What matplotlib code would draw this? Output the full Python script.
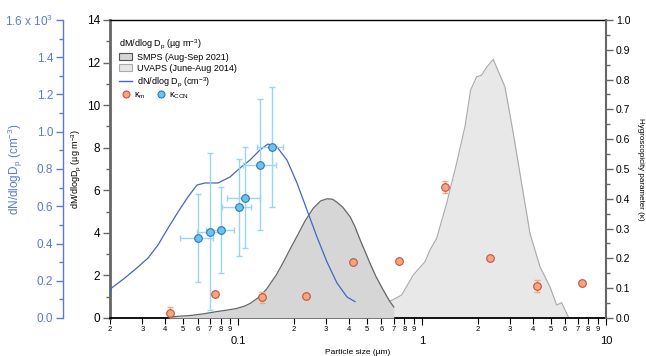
import matplotlib
matplotlib.use("Agg")
import matplotlib.pyplot as plt
from matplotlib.ticker import FixedLocator, FixedFormatter, MultipleLocator, FuncFormatter
from matplotlib.patches import Patch
from matplotlib.lines import Line2D
import numpy as np

plt.rcParams['font.family'] = ['Liberation Sans', 'DejaVu Sans']
plt.rcParams['mathtext.fontset'] = 'custom'
plt.rcParams['mathtext.rm'] = 'Liberation Sans'
plt.rcParams['mathtext.it'] = 'Liberation Sans:italic'
plt.rcParams['mathtext.bf'] = 'Liberation Sans:bold'

# ---------------- data ----------------
smps_d = [0.042, 0.055, 0.065, 0.076, 0.088, 0.098, 0.108, 0.116, 0.128, 0.142, 0.16, 0.175,
          0.19, 0.21, 0.23, 0.255, 0.28, 0.303, 0.325, 0.342, 0.37, 0.405, 0.43, 0.46, 0.49,
          0.52, 0.56, 0.614, 0.667, 0.70]
smps_m = [0.05, 0.12, 0.2, 0.3, 0.38, 0.45, 0.56, 0.69, 0.95, 1.35, 2.0, 2.6,
          3.2, 3.9, 4.55, 5.15, 5.5, 5.6, 5.58, 5.45, 5.2, 4.76, 4.3, 3.66, 3.1,
          2.57, 1.95, 1.31, 0.77, 0.52]

uvaps_d = [0.662, 0.773, 0.893, 1.035, 1.101, 1.198, 1.358, 1.538, 1.708, 1.833, 1.976, 2.105,
           2.25, 2.435, 2.819, 3.129, 3.474, 3.857, 4.372, 4.955, 5.389, 5.736, 6.23]
uvaps_m = [0.77, 1.08, 2.02, 2.64, 3.19, 3.74, 5.39, 7.27, 8.99, 10.71, 11.33, 11.41,
           11.8, 12.15, 10.86, 8.68, 6.33, 3.98, 2.41, 1.47, 0.61, 0.72, 0.06]

num_d = [0.02, 0.0204, 0.0241, 0.0284, 0.0322, 0.0365, 0.0414, 0.0469, 0.0531, 0.0595, 0.0658,
         0.0774, 0.0899, 0.1019, 0.1155, 0.1309, 0.1447, 0.1621, 0.1837, 0.2082, 0.2360,
         0.2675, 0.3031, 0.3436, 0.3895, 0.4305]
num_n = [134, 161, 215, 274, 322, 392, 483, 569, 650, 714, 725,
         725, 757, 805, 848, 902, 934, 918, 848, 725, 580,
         435, 301, 188, 113, 88]

km_d = [0.0424, 0.0745, 0.1337, 0.233, 0.421, 0.747, 1.335, 2.327, 4.21, 7.42]
km_k = [0.018, 0.080, 0.069, 0.074, 0.188, 0.190, 0.440, 0.203, 0.107, 0.117]
km_err = [0.020, 0.0, 0.017, 0.0, 0.0, 0.0, 0.020, 0.0, 0.020, 0.0]

kccn_d = [0.0605, 0.0700, 0.0803, 0.1007, 0.1085, 0.1310, 0.1516]
kccn_k = [0.268, 0.290, 0.295, 0.371, 0.403, 0.514, 0.575]
kccn_klo = [0.122, 0.027, 0.150, 0.209, 0.234, 0.295, 0.371]
kccn_khi = [0.415, 0.553, 0.440, 0.534, 0.573, 0.735, 0.776]
kccn_dlo = [0.0481, 0.0593, 0.0670, 0.0811, 0.0863, 0.1062, 0.1257]
kccn_dhi = [0.0729, 0.0811, 0.0950, 0.1177, 0.1309, 0.1600, 0.1753]

major_x = [0.1, 1, 10]
major_xlabels = ['0.1', '1', '10']
minor_x = [0.02, 0.03, 0.04, 0.05, 0.06, 0.07, 0.08, 0.09,
           0.2, 0.3, 0.4, 0.5, 0.6, 0.7, 0.8, 0.9,
           2, 3, 4, 5, 6, 7, 8, 9]
minor_xlabels = ['2', '3', '4', '5', '6', '7', '8', '9'] * 3

# ---------------- style ----------------
c_smps_f, c_smps_e = '#d6d6d6', '#666666'
c_uv_f, c_uv_e = '#e8e8e8', '#a8a8a8'
c_blue = '#4466c4'
c_blue_ax = '#5a7bd0'
c_km_f, c_km_e, c_km_err = '#f4a582', '#c4533a', '#f4a582'
c_cc_f, c_cc_e, c_cc_err = '#6ec3ee', '#2a7ab0', '#9ad6f3'
spine_gray = '#666666'

fig = plt.figure(figsize=(6.46, 3.56), dpi=100)
W, H = 646, 356
ax = fig.add_axes([110 / W, 38 / H, 496 / W, 298 / H])

# mass distributions
ax.fill_between(uvaps_d, uvaps_m, 0, color=c_uv_f, lw=0, zorder=1)
ax.plot(uvaps_d, uvaps_m, color=c_uv_e, lw=0.8, zorder=2)
ax.fill_between(smps_d, smps_m, 0, color=c_smps_f, lw=0, zorder=3)
ax.plot(smps_d, smps_m, color=c_smps_e, lw=0.9, zorder=4)

ax.set_xscale('log')
ax.set_xlim(0.02, 10)
ax.set_ylim(0, 14)
ax.xaxis.set_major_locator(FixedLocator(major_x))
ax.xaxis.set_major_formatter(FixedFormatter(major_xlabels))
ax.xaxis.set_minor_locator(FixedLocator(minor_x))
ax.xaxis.set_minor_formatter(FixedFormatter(minor_xlabels))
ax.tick_params(axis='x', which='major', direction='out', length=5, width=0.8, labelsize=8, pad=8)
ax.tick_params(axis='x', which='minor', direction='out', length=4, width=0.8, labelsize=5.5, pad=1.5)
ax.yaxis.set_major_locator(MultipleLocator(2))
ax.yaxis.set_minor_locator(MultipleLocator(1))
ax.tick_params(axis='y', which='major', direction='out', length=5, width=1, labelsize=8.5, colors='black', pad=2)
ax.tick_params(axis='y', which='minor', direction='out', length=3, width=1)
ax.tick_params(axis='y', which='both', color=spine_gray)
ax.spines['left'].set_color(spine_gray)
ax.spines['left'].set_linewidth(2)
ax.spines['bottom'].set_linewidth(1.3)
ax.spines['top'].set_linewidth(1.0)
ax.spines['right'].set_visible(False)
ax.set_xlabel('Particle size (µm)', fontsize=6)
ax.xaxis.set_label_coords(0.5, -0.104)
ax.set_ylabel('dM/dlogD$_\\mathregular{p}$ (µg m$^\\mathregular{-3}$)', fontsize=6.5)
ax.yaxis.set_label_coords(-0.054, 0.5)

# number distribution axis (outer left, blue)
axn = ax.twinx()
axn.plot(num_d, num_n, color=c_blue, lw=0.9, zorder=5)
axn.set_ylim(0, 1600)
axn.yaxis.set_ticks_position('left')
axn.yaxis.set_label_position('left')
axn.spines['left'].set_position(('outward', 47 * 72 / 100))
axn.spines['left'].set_color(c_blue_ax)
axn.spines['left'].set_linewidth(1.0)
for s in ['right', 'top', 'bottom']:
    axn.spines[s].set_visible(False)
axn.yaxis.set_major_locator(MultipleLocator(200))
axn.yaxis.set_minor_locator(MultipleLocator(100))


def nfmt(v, pos):
    if abs(v - 1600) < 1e-6:
        return '1.6 x 10$^\\mathregular{3}$'
    return '%.1f' % (v / 1000)


axn.yaxis.set_major_formatter(FuncFormatter(nfmt))
axn.tick_params(axis='y', which='major', direction='out', length=5, width=1, colors=c_blue_ax, labelsize=8.5, pad=2)
axn.tick_params(axis='y', which='minor', direction='out', length=3, width=1, colors=c_blue_ax)
axn.set_ylabel('dN/dlogD$_\\mathregular{p}$ (cm$^\\mathregular{-3}$)', fontsize=8.5, color=c_blue_ax)
axn.yaxis.set_label_coords(-0.171, 0.5)
axn.patch.set_visible(False)

# hygroscopicity axis (right)
axk = ax.twinx()
axk.set_ylim(0, 1.0)
axk.set_xlim(0.02, 10)
axk.errorbar(km_d, km_k, yerr=km_err, fmt='none', ecolor=c_km_err, elinewidth=1.0, capsize=2.5, capthick=1.0, zorder=6)
axk.errorbar(kccn_d, kccn_k,
             yerr=[np.array(kccn_k) - np.array(kccn_klo), np.array(kccn_khi) - np.array(kccn_k)],
             xerr=[np.array(kccn_d) - np.array(kccn_dlo), np.array(kccn_dhi) - np.array(kccn_d)],
             fmt='none', ecolor=c_cc_err, elinewidth=1.0, capsize=2.5, capthick=1.0, zorder=6)
axk.plot(km_d, km_k, 'o', ms=5.5, mfc=c_km_f, mec=c_km_e, mew=0.8, ls='none', zorder=7)
axk.plot(kccn_d, kccn_k, 'o', ms=5.5, mfc=c_cc_f, mec=c_cc_e, mew=0.8, ls='none', zorder=7)
axk.yaxis.set_major_locator(MultipleLocator(0.1))
axk.yaxis.set_minor_locator(MultipleLocator(0.05))
axk.yaxis.set_major_formatter(FuncFormatter(lambda v, p: '%.1f' % v))
axk.tick_params(axis='y', which='major', direction='out', length=5, width=1, labelsize=7.5, color=spine_gray, pad=2)
axk.tick_params(axis='y', which='minor', direction='out', length=3, width=1, color=spine_gray)
axk.spines['right'].set_color(spine_gray)
axk.spines['right'].set_linewidth(1.5)
for s in ['left', 'top', 'bottom']:
    axk.spines[s].set_visible(False)
axk.set_ylabel('Hygroscopicity parameter (κ)', fontsize=5.8, rotation=270, va='center')
axk.yaxis.set_label_coords(1.069, 0.5)
axk.patch.set_visible(False)

# legends
h1 = [Patch(facecolor=c_smps_f, edgecolor='#555555', lw=0.8),
      Patch(facecolor=c_uv_f, edgecolor='#aaaaaa', lw=0.8),
      Line2D([], [], color=c_blue, lw=1.0)]
l1 = ['SMPS (Aug-Sep 2021)', 'UVAPS (June-Aug 2014)', 'dN/dlog D$_\\mathregular{p}$ (cm$^\\mathregular{-3}$)']
leg1 = axk.legend(h1, l1, loc='upper left', bbox_to_anchor=(0.006, 0.965), frameon=False,
                  fontsize=6.5, title='dM/dlog D$_\\mathregular{p}$ (µg m$^\\mathregular{-3}$)',
                  title_fontsize=6.5, alignment='left', handlelength=1.4, handleheight=0.8,
                  handletextpad=0.6, labelspacing=0.25, borderpad=0.2)
axk.add_artist(leg1)
h2 = [Line2D([], [], marker='o', ls='none', ms=5, mfc=c_km_f, mec=c_km_e, mew=0.8),
      Line2D([], [], marker='o', ls='none', ms=5, mfc=c_cc_f, mec=c_cc_e, mew=0.8)]
l2 = ['κ$_\\mathregular{m}$', 'κ$_\\mathregular{CCN}$']
axk.legend(h2, l2, loc='upper left', bbox_to_anchor=(0.01, 0.785), frameon=False, ncol=2,
           fontsize=6.5, handlelength=1.0, handletextpad=0.4, columnspacing=1.2, borderpad=0.2)

fig.savefig('out.png', dpi=100)
